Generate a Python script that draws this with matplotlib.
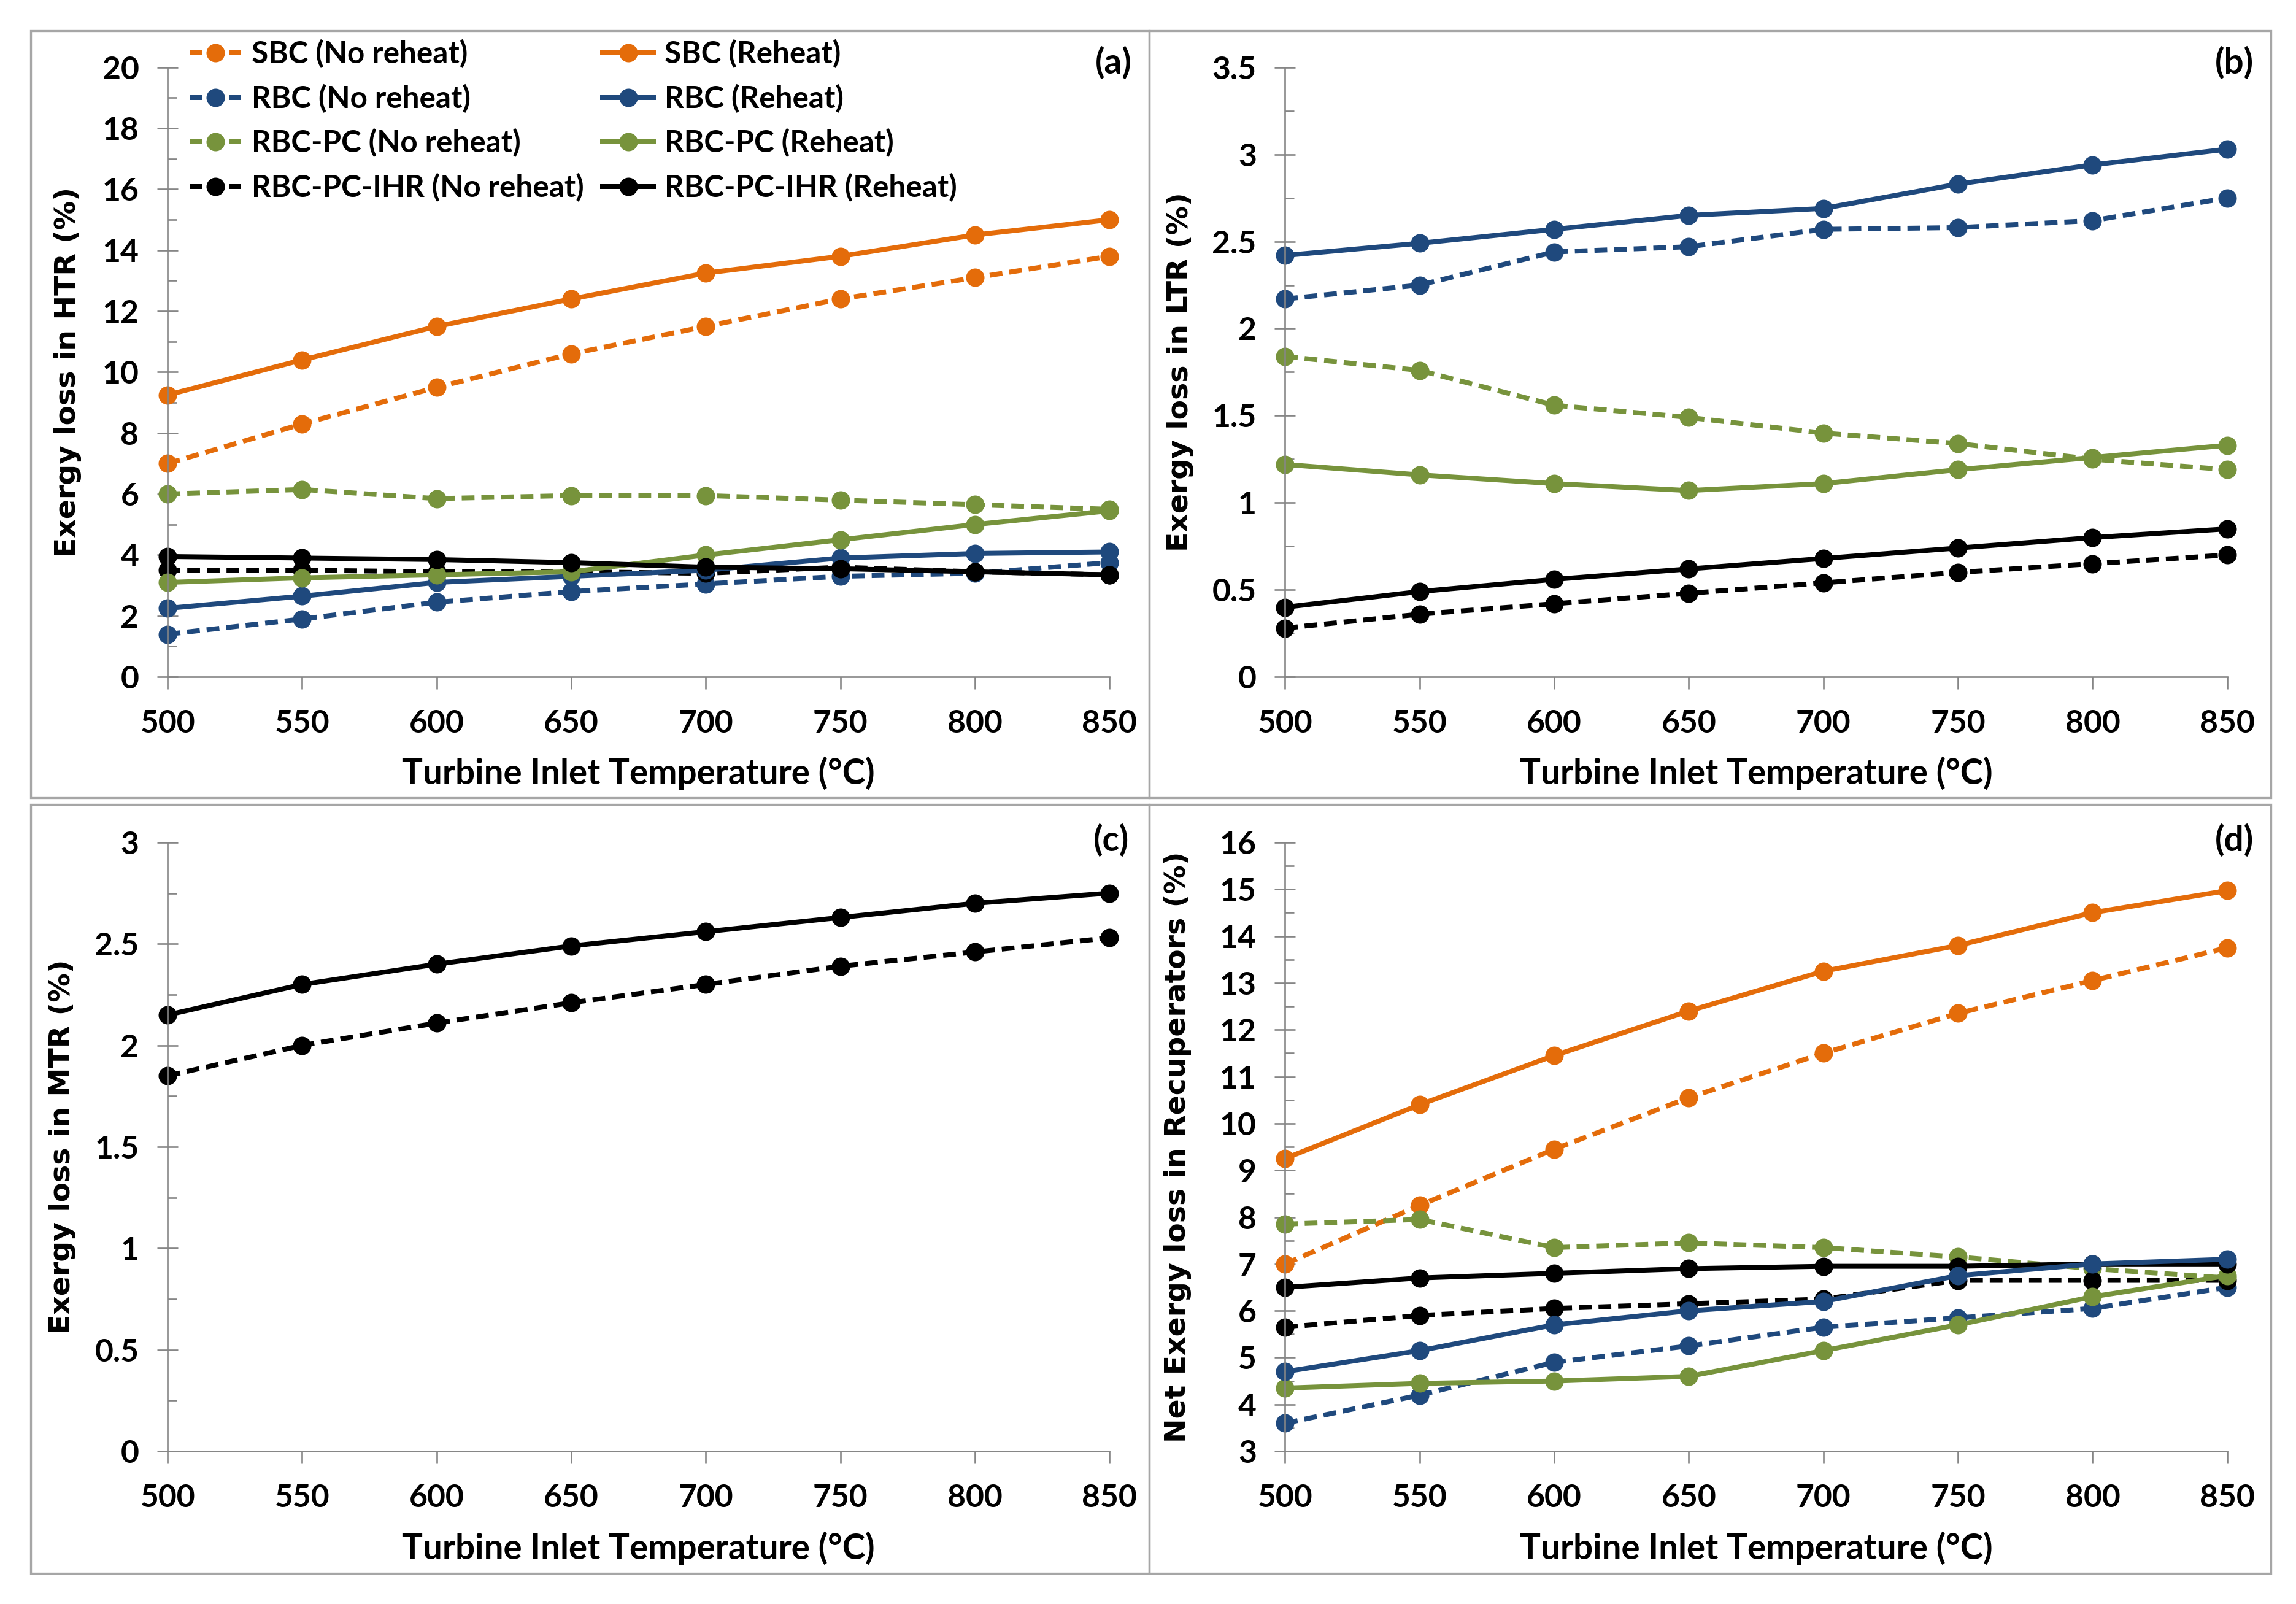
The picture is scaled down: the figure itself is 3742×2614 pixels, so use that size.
import matplotlib
matplotlib.use("Agg")
import matplotlib.pyplot as plt
from matplotlib.patches import Rectangle
from matplotlib.ticker import MultipleLocator, FuncFormatter

# Turbine inlet temperature (degC)
temps = [500, 550, 600, 650, 700, 750, 800, 850]

# (a) Exergy loss in HTR (%)
htr_sbc_nr = [7.0, 8.3, 9.5, 10.6, 11.5, 12.4, 13.1, 13.8]
htr_sbc_rh = [9.25, 10.4, 11.5, 12.4, 13.25, 13.8, 14.5, 15.0]
htr_rbc_nr = [1.4, 1.9, 2.45, 2.8, 3.05, 3.3, 3.4, 3.75]
htr_rbc_rh = [2.25, 2.65, 3.1, 3.3, 3.5, 3.9, 4.05, 4.1]
htr_pc_nr = [6.0, 6.15, 5.85, 5.95, 5.95, 5.8, 5.65, 5.5]
htr_pc_rh = [3.1, 3.25, 3.35, 3.45, 4.0, 4.5, 5.0, 5.45]
htr_ihr_nr = [3.5, 3.5, 3.45, 3.45, 3.4, 3.6, 3.45, 3.35]
htr_ihr_rh = [3.95, 3.9, 3.85, 3.75, 3.6, 3.55, 3.45, 3.35]

# (b) Exergy loss in LTR (%)
ltr_rbc_nr = [2.17, 2.25, 2.44, 2.47, 2.57, 2.58, 2.62, 2.75]
ltr_rbc_rh = [2.42, 2.49, 2.57, 2.65, 2.69, 2.83, 2.94, 3.03]
ltr_pc_nr = [1.84, 1.76, 1.56, 1.49, 1.40, 1.34, 1.25, 1.19]
ltr_pc_rh = [1.22, 1.16, 1.11, 1.07, 1.11, 1.19, 1.26, 1.33]
ltr_ihr_nr = [0.28, 0.36, 0.42, 0.48, 0.54, 0.60, 0.65, 0.70]
ltr_ihr_rh = [0.40, 0.49, 0.56, 0.62, 0.68, 0.74, 0.80, 0.85]

# (c) Exergy loss in MTR (%)
mtr_ihr_nr = [1.85, 2.00, 2.11, 2.21, 2.30, 2.39, 2.46, 2.53]
mtr_ihr_rh = [2.15, 2.30, 2.40, 2.49, 2.56, 2.63, 2.70, 2.75]

# (d) Net exergy loss in recuperators (%)
net_sbc_nr = [7.0, 8.25, 9.45, 10.55, 11.5, 12.35, 13.05, 13.75]
net_sbc_rh = [9.25, 10.4, 11.45, 12.4, 13.25, 13.8, 14.5, 14.97]
net_rbc_nr = [3.6, 4.2, 4.9, 5.25, 5.65, 5.85, 6.05, 6.5]
net_rbc_rh = [4.7, 5.15, 5.7, 6.0, 6.2, 6.75, 7.0, 7.1]
net_pc_nr = [7.85, 7.95, 7.35, 7.45, 7.35, 7.15, 6.9, 6.7]
net_pc_rh = [4.35, 4.45, 4.5, 4.6, 5.15, 5.7, 6.3, 6.75]
net_ihr_nr = [5.65, 5.9, 6.05, 6.15, 6.25, 6.65, 6.65, 6.65]
net_ihr_rh = [6.5, 6.7, 6.8, 6.9, 6.95, 6.95, 7.0, 7.0]

labels = ["SBC (No reheat)", "RBC (No reheat)", "RBC-PC (No reheat)", "RBC-PC-IHR (No reheat)",
          "SBC (Reheat)", "RBC (Reheat)", "RBC-PC (Reheat)", "RBC-PC-IHR (Reheat)"]

ORANGE = "#E46C0A"
BLUE = "#1F497D"
GREEN = "#77933C"
BLACK = "#000000"
GREY = "#868686"
FS = 15.5
WT = "bold"

plt.rcParams["font.family"] = ["Lato", "DejaVu Sans"]


def draw(ax, y, color, dashed, label=None):
    ls = (0, (2.6, 1.4)) if dashed else "-"
    line, = ax.plot(temps, y, color=color, lw=2.4, linestyle=ls, marker="o", ms=8,
                    mfc=color, mec=color, label=label, clip_on=False)
    return line


def style(ax, ymin, ymax, major, minor):
    ax.set_xlim(500, 850)
    ax.set_ylim(ymin, ymax)
    ax.xaxis.set_major_locator(MultipleLocator(50))
    ax.yaxis.set_major_locator(MultipleLocator(major))
    ax.yaxis.set_minor_locator(MultipleLocator(minor))
    ax.yaxis.set_major_formatter(FuncFormatter(lambda v, p: f"{v:g}"))
    for s in ["top", "right"]:
        ax.spines[s].set_visible(False)
    for s in ["left", "bottom"]:
        ax.spines[s].set_color(GREY)
        ax.spines[s].set_linewidth(0.8)
    ax.tick_params(axis="x", direction="out", length=6, width=0.8, color=GREY, pad=10, labelsize=FS)
    ax.tick_params(axis="y", which="major", direction="inout", length=10, width=0.8, color=GREY,
                   pad=9, labelsize=FS)
    ax.tick_params(axis="y", which="minor", direction="in", length=4.5, width=0.8, color=GREY)
    for t in ax.get_xticklabels() + ax.get_yticklabels():
        t.set_fontweight(WT)


fig = plt.figure(figsize=(3742 / 240, 2614 / 240), dpi=240)

# panel frames
for x0, y0, x1, y1 in [(0.0134, 0.5027, 0.5005, 0.981), (0.5005, 0.5027, 0.989, 0.981),
                       (0.0134, 0.019, 0.5005, 0.4985), (0.5005, 0.019, 0.989, 0.4985)]:
    fig.add_artist(Rectangle((x0, y0), x1 - x0, y1 - y0, transform=fig.transFigure,
                             fill=False, ec="#A6A6A6", lw=1.0))

L1, W1 = 0.0730, 0.4832 - 0.0730
L2, W2 = 0.5597, 0.9700 - 0.5597
B_top, H_top = 0.578, 0.958 - 0.578
B_bot, H_bot = 0.0952, 0.4748 - 0.0952

ax_a = fig.add_axes([L1, B_top, W1, H_top])
ax_b = fig.add_axes([L2, B_top, W2, H_top])
ax_c = fig.add_axes([L1, B_bot, W1, H_bot])
ax_d = fig.add_axes([L2, B_bot, W2, H_bot])

# (a)
h = []
h.append(draw(ax_a, htr_sbc_nr, ORANGE, True, labels[0]))
h.append(draw(ax_a, htr_rbc_nr, BLUE, True, labels[1]))
h.append(draw(ax_a, htr_pc_nr, GREEN, True, labels[2]))
h.append(draw(ax_a, htr_ihr_nr, BLACK, True, labels[3]))
h.append(draw(ax_a, htr_sbc_rh, ORANGE, False, labels[4]))
h.append(draw(ax_a, htr_rbc_rh, BLUE, False, labels[5]))
h.append(draw(ax_a, htr_pc_rh, GREEN, False, labels[6]))
h.append(draw(ax_a, htr_ihr_rh, BLACK, False, labels[7]))
style(ax_a, 0, 20, 2, 1)
leg = ax_a.legend(handles=h, ncol=2, loc="upper left", bbox_to_anchor=(0.0826, 0.9755),
                  bbox_transform=fig.transFigure, frameon=False,
                  prop={"size": 14.8, "weight": WT}, handlelength=1.7,
                  handletextpad=0.35, columnspacing=0.6, labelspacing=0.52, borderpad=0,
                  borderaxespad=0)

# (b)
draw(ax_b, ltr_rbc_nr, BLUE, True)
draw(ax_b, ltr_pc_nr, GREEN, True)
draw(ax_b, ltr_ihr_nr, BLACK, True)
draw(ax_b, ltr_rbc_rh, BLUE, False)
draw(ax_b, ltr_pc_rh, GREEN, False)
draw(ax_b, ltr_ihr_rh, BLACK, False)
style(ax_b, 0, 3.5, 0.5, 0.25)

# (c)
draw(ax_c, mtr_ihr_nr, BLACK, True)
draw(ax_c, mtr_ihr_rh, BLACK, False)
style(ax_c, 0, 3, 0.5, 0.25)

# (d)
draw(ax_d, net_sbc_nr, ORANGE, True)
draw(ax_d, net_rbc_nr, BLUE, True)
draw(ax_d, net_pc_nr, GREEN, True)
draw(ax_d, net_ihr_nr, BLACK, True)
draw(ax_d, net_sbc_rh, ORANGE, False)
draw(ax_d, net_pc_rh, GREEN, False)
draw(ax_d, net_ihr_rh, BLACK, False)
draw(ax_d, net_rbc_rh, BLUE, False)
style(ax_d, 3, 16, 1, 0.5)

# y labels
ylab = dict(ha="center", va="center", rotation=90, fontsize=14.2, fontweight="bold",
            family=["DejaVu Sans"])
fig.text(0.0295, B_top + H_top / 2, "Exergy loss in HTR (%)", **ylab)
fig.text(0.514, B_top + H_top / 2, "Exergy loss in LTR (%)", **ylab)
fig.text(0.027, B_bot + H_bot / 2, "Exergy loss in MTR (%)", **ylab)
fig.text(0.513, B_bot + H_bot / 2, "Net Exergy loss in Recuperators (%)", **ylab)

# x labels
xlab = "Turbine Inlet Temperature (\u00b0C)"
xkw = dict(ha="center", va="center", fontsize=17, fontweight=WT)
fig.text(L1 + W1 / 2, 0.518, xlab, **xkw)
fig.text(L2 + W2 / 2, 0.518, xlab, **xkw)
fig.text(L1 + W1 / 2, 0.0348, xlab, **xkw)
fig.text(L2 + W2 / 2, 0.0348, xlab, **xkw)

# panel tags
tkw = dict(ha="right", va="center", fontsize=17, fontweight=WT)
fig.text(0.493, 0.9606, "(a)", **tkw)
fig.text(0.9816, 0.9606, "(b)", **tkw)
fig.text(0.4918, 0.476, "(c)", **tkw)
fig.text(0.9816, 0.476, "(d)", **tkw)

fig.savefig("out.png", dpi=240)
